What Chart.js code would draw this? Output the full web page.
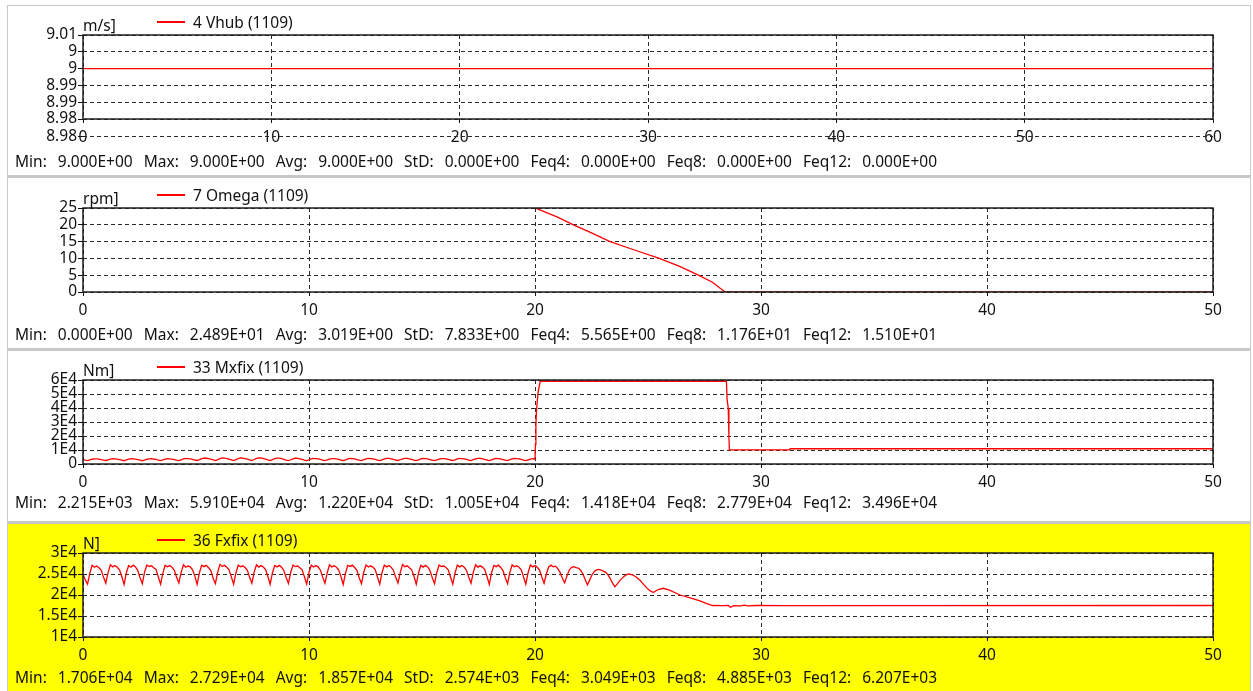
<!DOCTYPE html>
<html>
<head>
<meta charset="utf-8">
<title>Channels (1109)</title>
<script src="https://cdn.jsdelivr.net/npm/chart.js@4.4.1/dist/chart.umd.min.js"></script>
<style>
  html, body { margin: 0; padding: 0; background: #fff; }
  body { width: 1253px; height: 691px; position: relative; overflow: hidden;
         font-family: "Noto Sans", sans-serif; font-size: 15.5px; color: #111; }
  #outer { position: absolute; left: 7px; top: 5px; width: 1244px; height: 686px; background: #c8c8c8; }
  .box { position: absolute; left: 8px; width: 1242px; background: #fff; }
  .box.yellow { background: #ffff00; }
  canvas { position: absolute; left: 8px; }
  .txt { position: absolute; white-space: pre; line-height: 18px; }
  .stats { word-spacing: 7px; }
  .sw { position: absolute; left: 157px; width: 28px; height: 1.5px; background: #ff0000; }
</style>
</head>
<body>
<div id="outer"></div>
<div class="box" style="top:6px;height:169px"></div>
<div class="box" style="top:178px;height:170px"></div>
<div class="box" style="top:351px;height:170px"></div>
<div class="box yellow" style="top:524px;height:167px"></div>

<canvas id="c1" width="1242" height="150" style="top:6px"></canvas>
<canvas id="c2" width="1242" height="150" style="top:179px"></canvas>
<canvas id="c3" width="1242" height="150" style="top:351px"></canvas>
<canvas id="c4" width="1242" height="150" style="top:524px"></canvas>

<div class="sw" style="top:21.3px"></div>
<div class="txt" style="left:193px;top:13px">4 Vhub (1109)</div>
<div class="txt" style="left:83px;top:15.5px">m/s]</div>
<div class="txt stats" style="left:15px;top:151.7px">Min: 9.000E+00 Max: 9.000E+00 Avg: 9.000E+00 StD: 0.000E+00 Feq4: 0.000E+00 Feq8: 0.000E+00 Feq12: 0.000E+00</div>

<div class="sw" style="top:194.3px"></div>
<div class="txt" style="left:193px;top:186px">7 Omega (1109)</div>
<div class="txt" style="left:83px;top:188.5px">rpm]</div>
<div class="txt stats" style="left:15px;top:324.7px">Min: 0.000E+00 Max: 2.489E+01 Avg: 3.019E+00 StD: 7.833E+00 Feq4: 5.565E+00 Feq8: 1.176E+01 Feq12: 1.510E+01</div>

<div class="sw" style="top:366.3px"></div>
<div class="txt" style="left:193px;top:358px">33 Mxfix (1109)</div>
<div class="txt" style="left:83px;top:360.5px">Nm]</div>
<div class="txt stats" style="left:15px;top:492.7px">Min: 2.215E+03 Max: 5.910E+04 Avg: 1.220E+04 StD: 1.005E+04 Feq4: 1.418E+04 Feq8: 2.779E+04 Feq12: 3.496E+04</div>

<div class="sw" style="top:539.3px"></div>
<div class="txt" style="left:193px;top:531px">36 Fxfix (1109)</div>
<div class="txt" style="left:83px;top:533.5px">N]</div>
<div class="txt stats" style="left:15px;top:668px">Min: 1.706E+04 Max: 2.729E+04 Avg: 1.857E+04 StD: 2.574E+03 Feq4: 3.049E+03 Feq8: 4.885E+03 Feq12: 6.207E+03</div>

<script>
// ---- channel data (time in s) ----

// 4 Vhub [m/s]
var vhubT = [0, 60];
var vhubV = [9.0, 9.0];
var vhubTicks = [8.985, 8.99, 8.995, 9.0, 9.005, 9.01];
var vhubLabels = ['8.98', '8.99', '8.99', '9', '9', '9.01'];
var vhubLowTick = 8.98;
var vhubLowLabel = '8.98';

// 7 Omega [rpm]
var omegaT = [20.05, 21.0, 21.7, 22.5, 23.32, 24.4, 25.5, 26.4, 27.23, 27.85, 28.41, 50];
var omegaV = [24.89, 22.3, 20.0, 17.6, 15.0, 12.5, 10.0, 7.6, 5.0, 2.9, 0, 0];
var omegaTicks = [0, 5, 10, 15, 20, 25];
var omegaLabels = ['0', '5', '10', '15', '20', '25'];

// output step of the sampled parts
var sampleStep = 0.101;

// 33 Mxfix [Nm], sampled from t=0
var mxSampled = [
  3300, 2800,
  2400, 2900, 3400, 3700, 3700, 3500, 3200, 2800,
  2500, 2950, 3450, 3750, 3650, 3450, 3150, 2750,
  2350, 2900, 3500, 3800, 3700, 3500, 3200, 2800,
  2215, 2850, 3400, 3700, 3750, 3550, 3250, 2800,
  2450, 2950, 3500, 3800, 3700, 3450, 3150, 2750,
  2400, 3000, 3600, 3950, 3900, 3650, 3300, 2850,
  2500, 3100, 3800, 4200, 4100, 3800, 3400, 2900,
  2450, 3150, 3900, 4350, 4200, 3850, 3400, 2900,
  2400, 3100, 3850, 4300, 4250, 3900, 3450, 2950,
  2500, 3200, 3950, 4400, 4300, 3900, 3400, 2900,
  2450, 3100, 3850, 4250, 4150, 3800, 3350, 2850,
  2400, 3050, 3700, 4100, 4000, 3700, 3300, 2850,
  2450, 3000, 3600, 3950, 3900, 3650, 3250, 2800,
  2400, 2950, 3550, 3900, 3850, 3600, 3250, 2800,
  2500, 3000, 3600, 3950, 3850, 3600, 3200, 2800,
  2450, 3050, 3650, 4000, 3900, 3650, 3250, 2850,
  2400, 3000, 3600, 3950, 3950, 3700, 3300, 2850,
  2500, 3050, 3700, 4050, 3950, 3650, 3250, 2800,
  2450, 3000, 3650, 4000, 3900, 3600, 3200, 2800,
  2400, 2950, 3550, 3900, 3850, 3600, 3250, 2850,
  2500, 3000, 3600, 3950, 3900, 3650, 3250, 2800,
  2450, 3050, 3650, 4000, 3950, 3650, 3300, 2850,
  2400, 3000, 3600, 3950, 3850, 3600, 3200, 2800,
  2500, 3050, 3650, 4000, 3900, 3650, 3250, 2850,
  2450, 3000, 3550, 3850, 3400
];
var mxTailT = [20.02, 20.04, 20.06, 20.13, 20.23, 28.47, 28.5, 28.55, 28.58, 28.6, 31.27, 31.29, 50];
var mxTailV = [14000, 27000, 36500, 50600, 59100, 59100, 46000, 40000, 20000, 10100, 10100, 10900, 10900];
var mxTicks = [0, 10000, 20000, 30000, 40000, 50000, 60000];
var mxLabels = ['0', '1E4', '2E4', '3E4', '4E4', '5E4', '6E4'];

// 36 Fxfix [N], sampled from t=0
var fxSampled = [
  24900, 23600,
  22600, 25200, 27100, 26600, 26900, 26500, 25900, 24200,
  22800, 25400, 27200, 26700, 27000, 26600, 26000, 24400,
  22500, 25300, 27000, 26600, 27100, 26700, 25800, 24100,
  22700, 25500, 27150, 26800, 26950, 26500, 26100, 24300,
  22600, 25200, 27050, 26700, 27000, 26600, 25900, 24200,
  22900, 25400, 27200, 26600, 26900, 26700, 26000, 24500,
  22500, 25300, 27100, 26750, 27050, 26500, 25800, 24000,
  22700, 25400, 27290, 26800, 27100, 26600, 26000, 24300,
  22600, 25250, 27100, 26700, 26950, 26550, 25900, 24200,
  22800, 25450, 27200, 26650, 27000, 26650, 26050, 24400,
  22550, 25300, 27050, 26700, 27050, 26600, 25850, 24150,
  22750, 25400, 27150, 26750, 26900, 26500, 26000, 24350,
  22600, 25350, 27100, 26650, 27000, 26700, 25900, 24250,
  22800, 25300, 27200, 26700, 26950, 26600, 26000, 24400,
  22500, 25250, 27050, 26800, 27100, 26550, 25850, 24100,
  22700, 25450, 27150, 26650, 26950, 26650, 26050, 24300,
  22600, 25300, 27100, 26700, 27000, 26600, 25900, 24200,
  22850, 25400, 27250, 26750, 26950, 26500, 26000, 24450,
  22550, 25300, 27050, 26650, 27050, 26700, 25850, 24150,
  22700, 25350, 27150, 26800, 26900, 26550, 26000, 24300,
  22600, 25250, 27100, 26700, 27000, 26600, 25900, 24200,
  22800, 25450, 27200, 26650, 26950, 26650, 26050, 24400,
  22500, 25300, 27050, 26750, 27100, 26550, 25800, 24100,
  22700, 25400, 27150, 26700, 26950, 26600, 26000, 24300,
  22600, 25300, 27150, 26700, 27000, 26600, 25950, 24300,
  22800, 25000, 26700, 27100, 26700, 26850, 26300, 25400, 24000,
  22900, 24500, 25900, 26600, 26750, 26500, 26400, 25900, 25000, 23700,
  22400, 23600, 24800, 25600, 26000, 26100, 25900, 25700, 25400, 24800, 23900, 22800,
  22000, 22600, 23300, 23900, 24400, 24800, 25000, 24900, 24700, 24400, 24000, 23500,
  22900, 22300, 21700, 21200, 20800, 20650
];
var fxTailT = [25.45, 25.68, 25.95, 26.42, 26.9, 27.3, 27.6, 27.85, 28.3, 28.55, 28.65, 28.8, 29.1, 29.27, 29.4, 29.8, 31.0, 50];
var fxTailV = [21300, 21600, 21150, 20000, 19250, 18590, 17950, 17500, 17450, 17500, 17060, 17450, 17400, 17600, 17400, 17500, 17480, 17500];
var fxTicks = [10000, 15000, 20000, 25000, 30000];
var fxLabels = ['1E4', '1.5E4', '2E4', '2.5E4', '3E4'];

// ---- helpers ----
function pairs(t, v) {
  return t.map(function (x, i) { return { x: x, y: v[i] }; });
}
function sampled(v) {
  return v.map(function (y, i) { return { x: i * sampleStep, y: y }; });
}

Chart.defaults.font.family = '"Noto Sans", sans-serif';
Chart.defaults.font.size = 15.5;
Chart.defaults.color = '#111';

// white plot area + solid frame on top of the trace
var frameBox = {
  id: 'frameBox',
  beforeDraw: function (chart) {
    var a = chart.chartArea, c = chart.ctx;
    c.save();
    c.fillStyle = '#fff';
    c.fillRect(a.left, a.top, a.right - a.left, a.bottom - a.top);
    c.restore();
  },
  afterDatasetsDraw: function (chart) {
    var a = chart.chartArea, c = chart.ctx;
    c.save();
    c.strokeStyle = '#1e1e1e';
    c.lineWidth = 1.5;
    c.strokeRect(Math.round(a.left), Math.round(a.top), Math.round(a.right - a.left), Math.round(a.bottom - a.top));
    c.restore();
  }
};

// the Vhub axis carries one more gridline below the frame
var lowRow = {
  id: 'lowRow',
  afterDraw: function (chart) {
    var a = chart.chartArea, c = chart.ctx;
    var y = Math.round(chart.scales.y.getPixelForValue(vhubLowTick)) + 0.5;
    c.save();
    c.strokeStyle = '#2a2a2a';
    c.lineWidth = 1;
    c.setLineDash([4, 3]);
    c.beginPath();
    c.moveTo(a.left, y);
    c.lineTo(a.right, y);
    c.stroke();
    c.setLineDash([]);
    c.strokeStyle = '#111';
    c.beginPath();
    c.moveTo(a.left - 5, y);
    c.lineTo(a.left, y);
    c.stroke();
    c.fillStyle = '#111';
    c.font = '15.5px "Noto Sans", sans-serif';
    c.textAlign = 'right';
    c.textBaseline = 'middle';
    c.fillText(vhubLowLabel, a.left - 6, y);
    c.restore();
  }
};

function xAxis(max) {
  return {
    type: 'linear', min: 0, max: max,
    afterFit: function (s) { s.height = 37; },
    ticks: { stepSize: 10, padding: 5, maxRotation: 0, autoSkip: false },
    grid: { color: '#2a2a2a', lineWidth: 1, tickLength: 4, tickColor: '#111', tickBorderDash: [] },
    border: { display: false, dash: [4, 3] }
  };
}

function yAxis(ticks, labels) {
  return {
    type: 'linear', min: ticks[0], max: ticks[ticks.length - 1],
    afterBuildTicks: function (s) { s.ticks = ticks.map(function (v) { return { value: v }; }); },
    afterFit: function (s) { s.width = 75; },
    ticks: { padding: 1, autoSkip: false, callback: function (v, i) { return labels[i]; } },
    grid: { color: '#2a2a2a', lineWidth: 1, tickLength: 5, tickColor: '#111', tickBorderDash: [] },
    border: { display: false, dash: [4, 3] }
  };
}

function channel(id, points, xMax, yTicks, yLabels, extra) {
  return new Chart(document.getElementById(id), {
    type: 'line',
    data: {
      datasets: [{
        data: points,
        borderColor: '#ff0000',
        borderWidth: 1.3,
        pointRadius: 0,
        fill: false,
        tension: 0
      }]
    },
    options: {
      responsive: false,
      animation: false,
      devicePixelRatio: 1,
      events: [],
      layout: { padding: { top: 29, right: 37, bottom: 0, left: 0 } },
      plugins: { legend: { display: false }, tooltip: { enabled: false } },
      scales: { x: xAxis(xMax), y: yAxis(yTicks, yLabels) }
    },
    plugins: [frameBox].concat(extra || [])
  });
}

channel('c1', pairs(vhubT, vhubV), 60, vhubTicks, vhubLabels, [lowRow]);
channel('c2', pairs(omegaT, omegaV), 50, omegaTicks, omegaLabels);
channel('c3', sampled(mxSampled).concat(pairs(mxTailT, mxTailV)), 50, mxTicks, mxLabels);
channel('c4', sampled(fxSampled).concat(pairs(fxTailT, fxTailV)), 50, fxTicks, fxLabels);
</script>
</body>
</html>
